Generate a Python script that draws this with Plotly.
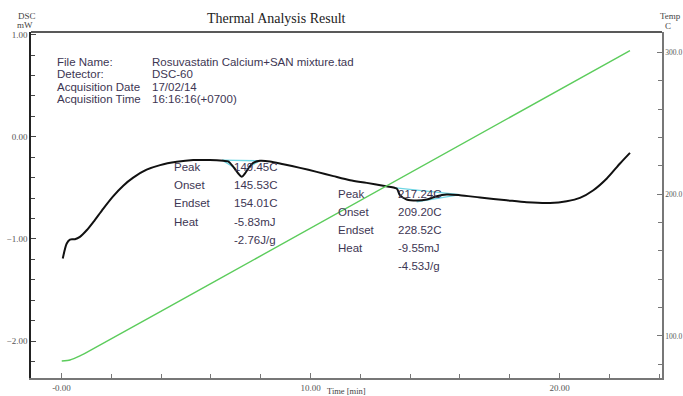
import plotly.graph_objects as go

# DSC signal (mW) against time (min)
time_min = [0.05, 0.21, 0.34, 0.54, 0.74, 1.01, 1.28, 1.68, 2.08, 2.48, 2.88, 3.42,
            3.96, 4.63, 5.29, 5.96, 6.50, 6.69, 6.90, 7.10, 7.24, 7.37, 7.50, 7.70,
            7.97, 8.37, 8.91, 9.58, 10.25, 10.92, 11.59, 12.26, 12.92, 13.46, 13.59,
            13.86, 14.27, 14.67, 15.07, 15.47, 16.00, 16.81, 17.88, 18.68, 19.62,
            20.29, 20.82, 21.36, 21.90, 22.43, 22.83]
dsc_mw = [-1.192, -1.045, -1.006, -1.003, -0.980, -0.915, -0.833, -0.702, -0.580,
          -0.478, -0.400, -0.322, -0.277, -0.245, -0.228, -0.228, -0.235, -0.240,
          -0.294, -0.359, -0.392, -0.359, -0.310, -0.255, -0.235, -0.241, -0.268,
          -0.304, -0.343, -0.385, -0.425, -0.451, -0.480, -0.506, -0.571, -0.614,
          -0.624, -0.614, -0.581, -0.565, -0.572, -0.594, -0.621, -0.640, -0.647,
          -0.630, -0.598, -0.523, -0.408, -0.261, -0.157]

# Sample temperature (C) against time (min)
temp_time = [0.01, 0.34, 0.74, 1.14, 6.23, 22.83]
temp_c = [82.3, 83.0, 85.9, 89.6, 139.2, 301.4]

# Peak analysis construction lines (baseline and tangents)
peak1_base_t = [6.45, 7.95]
peak1_base_v = [-0.228, -0.235]
peak1_tan_a_t = [6.45, 7.00]
peak1_tan_a_v = [-0.228, -0.310]
peak1_tan_b_t = [7.50, 7.95]
peak1_tan_b_v = [-0.300, -0.235]
peak2_base_t = [13.42, 16.00]
peak2_base_v = [-0.500, -0.565]
peak2_tan_t = [14.26, 16.00]
peak2_tan_v = [-0.637, -0.565]

# Axis ticks
x_ticks = [0, 10, 20]
x_ticktext = ["-0.00", "10.00", "20.00"]
dsc_ticks = [1.0, 0.0, -1.0, -2.0]
temp_ticks = [100, 200, 300]

# Header and peak reports
info_keys = ["File Name:", "Detector:", "Acquisition Date", "Acquisition Time"]
info_vals = ["Rosuvastatin Calcium+SAN mixture.tad", "DSC-60", "17/02/14", "16:16:16(+0700)"]
peak_keys = ["Peak", "Onset", "Endset", "Heat", ""]
peak1_vals = ["149.45C", "145.53C", "154.01C", "-5.83mJ", "-2.76J/g"]
peak2_vals = ["217.24C", "209.20C", "228.52C", "-9.55mJ", "-4.53J/g"]

W, H = 683, 396
L, R, T, B = 31, 21, 32, 18
PW, PH = W - L - R, H - T - B


def px(x):
    return (x - L) / PW


def py(y):
    return (H - B - y) / PH


CYAN = "#6fd6e4"
fig = go.Figure()

for tt, vv in [(peak1_base_t, peak1_base_v), (peak1_tan_a_t, peak1_tan_a_v),
               (peak1_tan_b_t, peak1_tan_b_v), (peak2_base_t, peak2_base_v),
               (peak2_tan_t, peak2_tan_v)]:
    fig.add_trace(go.Scatter(x=tt, y=vv, mode="lines",
                             line=dict(color=CYAN, width=1.3), showlegend=False,
                             hoverinfo="skip"))

fig.add_trace(go.Scatter(x=time_min, y=dsc_mw, mode="lines",
                         line=dict(color="#111111", width=2, shape="spline", smoothing=0.8),
                         showlegend=False, name="DSC"))
fig.add_trace(go.Scatter(x=temp_time, y=temp_c, mode="lines", yaxis="y2",
                         line=dict(color="#5ccc5c", width=1.4, shape="spline", smoothing=0.5),
                         showlegend=False, name="Temp"))

tick_font = dict(family="Liberation Serif", size=9, color="#555555")
text_font = dict(family="Liberation Sans", size=11.5, color="#3d3653")

fig.update_layout(
    width=W, height=H,
    margin=dict(l=L, r=R, t=T, b=B, pad=0, autoexpand=False),
    paper_bgcolor="white", plot_bgcolor="white",
    xaxis=dict(range=[-1.225, 24.116], tickvals=x_ticks, ticktext=x_ticktext,
               automargin=False,
               showgrid=False, zeroline=False, showline=True, linecolor="#777777",
               linewidth=2, ticks="inside", ticklen=5, tickcolor="#777777",
               tickfont=tick_font, ticklabelstandoff=0,
               minor=dict(dtick=2, ticks="inside", ticklen=4, tickcolor="#777777")),
    yaxis=dict(range=[-2.361, 1.026], tickvals=dsc_ticks, tickformat=".2f",
               automargin=False,
               showgrid=False, zeroline=False, showline=True, linecolor="#222222",
               linewidth=1.5, ticks="inside", ticklen=5, tickcolor="#444444",
               tickfont=tick_font,
               minor=dict(dtick=0.2, ticks="inside", ticklen=4, tickcolor="#444444")),
    yaxis2=dict(range=[70.3, 314.5], overlaying="y", side="right", tickvals=temp_ticks,
                automargin=False,
                tickformat=".1f", showgrid=False, zeroline=False, showline=True,
                linecolor="#777777", linewidth=1.5, ticks="inside", ticklen=5,
                tickcolor="#777777", tickfont=dict(family="Liberation Serif", size=7.5,
                                                   color="#555555"),
                ticklabelstandoff=0,
                minor=dict(dtick=20, ticks="inside", ticklen=4, tickcolor="#777777")),
    shapes=[dict(type="line", xref="paper", yref="paper", x0=0, x1=1, y0=1, y1=1,
                 line=dict(color="#222222", width=1.5))],
)

ann = []


def label(text, x, y, font, xanchor="left"):
    ann.append(dict(text=text, x=px(x), y=py(y), xref="paper", yref="paper",
                    xanchor=xanchor, yanchor="middle", showarrow=False, font=font))


label("Thermal Analysis Result", 276, 19,
      dict(family="Liberation Serif", size=14, color="#222222"), xanchor="center")
label("DSC", 16, 16, dict(family="Liberation Serif", size=9, color="#444444"))
label("mW", 15, 25, dict(family="Liberation Serif", size=9, color="#444444"))
label("Temp", 658, 16, dict(family="Liberation Serif", size=9, color="#444444"))
label("C", 663, 26, dict(family="Liberation Serif", size=9, color="#444444"))
label("Time [min]", 346, 390.5, dict(family="Liberation Serif", size=8.5, color="#444444"),
      xanchor="center")

for i, (k, v) in enumerate(zip(info_keys, info_vals)):
    yy = 62 + i * 12.3
    label(k, 55, yy, text_font)
    label(v, 150, yy, text_font)

for i, (k, v) in enumerate(zip(peak_keys, peak1_vals)):
    yy = 167 + i * 18.2
    if k:
        label(k, 172, yy, text_font)
    label(v, 232, yy, text_font)

for i, (k, v) in enumerate(zip(peak_keys, peak2_vals)):
    yy = 193.5 + i * 18.1
    if k:
        label(k, 336, yy, text_font)
    label(v, 396, yy, text_font)

fig.update_layout(annotations=ann)
fig.write_html("out.html")
